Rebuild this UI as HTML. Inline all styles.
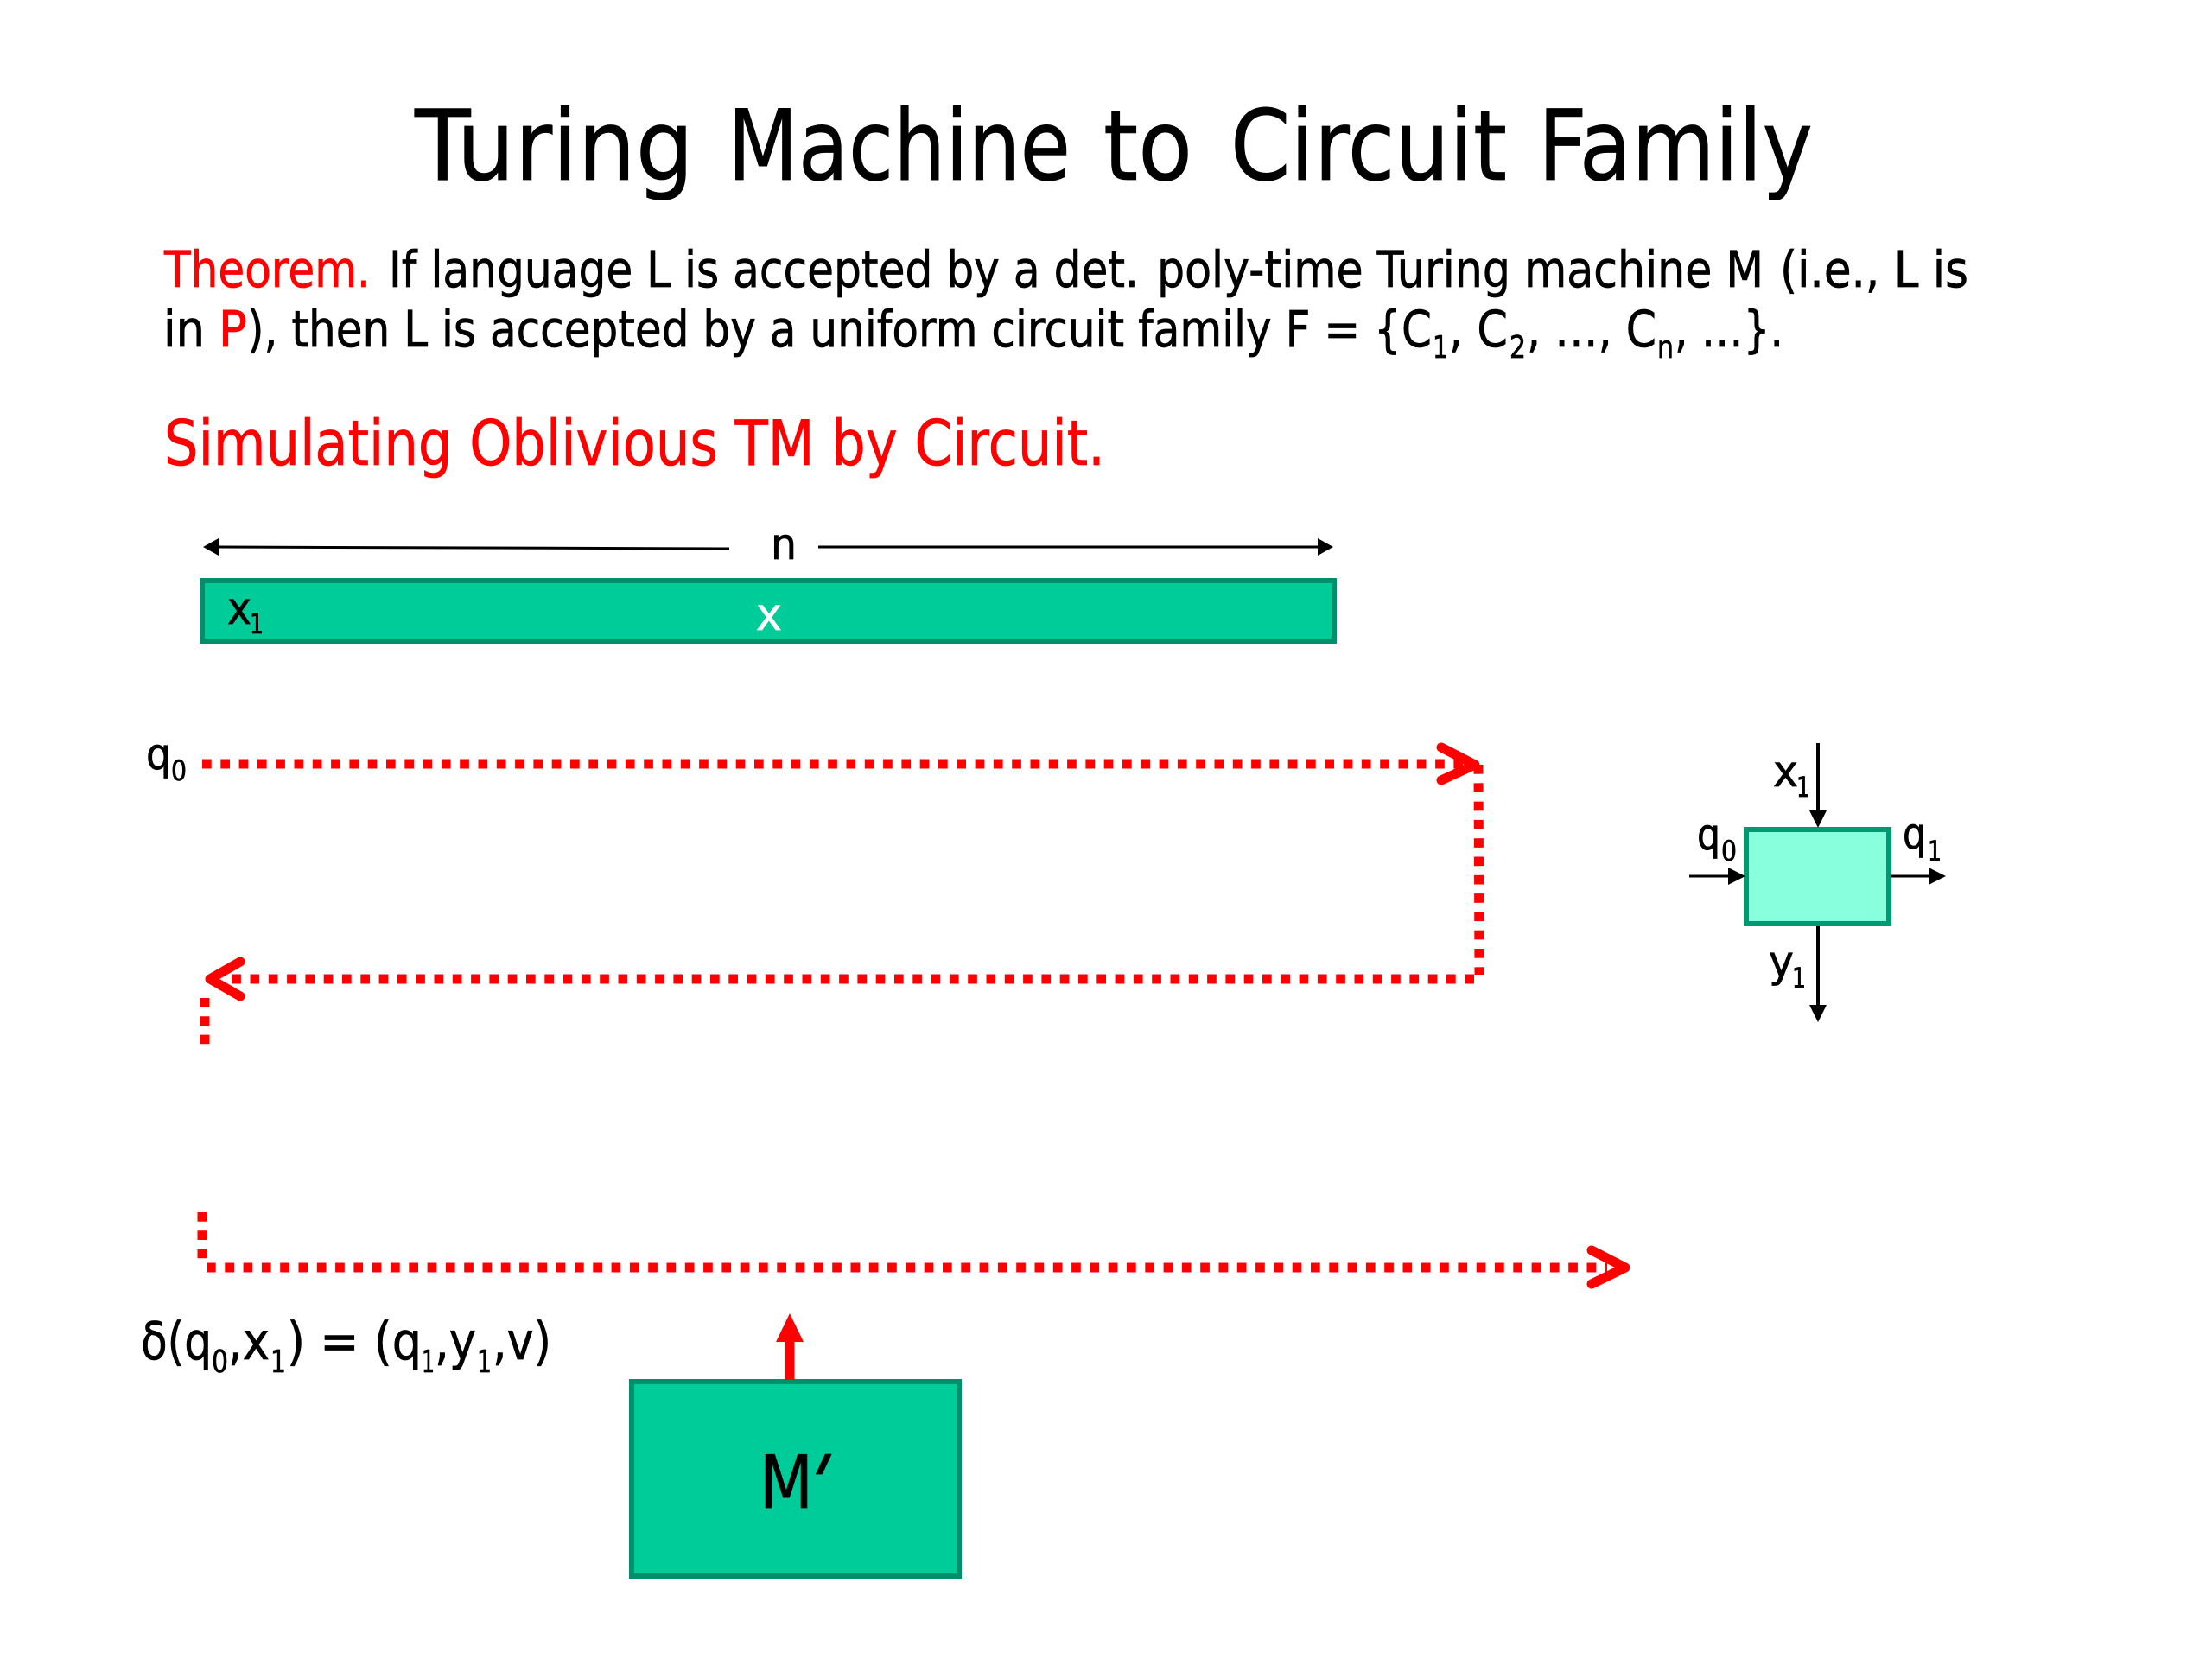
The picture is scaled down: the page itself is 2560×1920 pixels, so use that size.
<!DOCTYPE html>
<html>
<head>
<meta charset="utf-8">
<style>
html,body{margin:0;padding:0;background:#fff;width:2560px;height:1920px;overflow:hidden}
svg{display:block}
text{font-family:"DejaVu Sans","Liberation Sans",sans-serif;fill:#000;stroke:#000;stroke-width:.7}
text.r{fill:#f00;stroke:#f00}
.d{fill:none;stroke:#f00;stroke-width:11;stroke-dasharray:10.7 10.6}
.h{fill:none;stroke:#f00;stroke-width:11;stroke-linecap:round;stroke-linejoin:round}
</style>
</head>
<body>
<svg width="2560" height="1920" viewBox="0 0 2560 1920" xmlns="http://www.w3.org/2000/svg">
<rect width="2560" height="1920" fill="#fff"/>

<g font-size="113">
<text x="480" y="208" textLength="323" lengthAdjust="spacingAndGlyphs">Turing</text>
<text x="842" y="208" textLength="397" lengthAdjust="spacingAndGlyphs">Machine</text>
<text x="1277" y="208" textLength="103" lengthAdjust="spacingAndGlyphs">to</text>
<text x="1424" y="208" textLength="320" lengthAdjust="spacingAndGlyphs">Circuit</text>
<text x="1780" y="208" textLength="318" lengthAdjust="spacingAndGlyphs">Family</text>
</g>

<g font-size="58">
<text class="r" x="190" y="332" textLength="239" lengthAdjust="spacingAndGlyphs">Theorem.</text>
<text x="450" y="332" textLength="868" lengthAdjust="spacingAndGlyphs">If language L is accepted by a det.</text>
<text x="1339" y="332" textLength="702" lengthAdjust="spacingAndGlyphs">poly-time Turing machine M</text>
<text x="2060" y="332" textLength="218" lengthAdjust="spacingAndGlyphs">(i.e., L is</text>
<text x="189" y="401" textLength="48" lengthAdjust="spacingAndGlyphs">in</text>
<text class="r" x="253" y="401" textLength="33" lengthAdjust="spacingAndGlyphs">P</text>
<text x="286" y="401" textLength="1371" lengthAdjust="spacingAndGlyphs">), then L is accepted by a uniform circuit family F = {C</text>
<text x="1677" y="401" textLength="68" lengthAdjust="spacingAndGlyphs">, C</text>
<text x="1767" y="401" textLength="150" lengthAdjust="spacingAndGlyphs">, …, C</text>
<text x="1938" y="401" textLength="126" lengthAdjust="spacingAndGlyphs">, …}.</text>
</g>
<g font-size="36">
<text x="1658" y="414" textLength="18" lengthAdjust="spacingAndGlyphs">1</text>
<text x="1747" y="414" textLength="19" lengthAdjust="spacingAndGlyphs">2</text>
<text x="1918" y="414" textLength="19" lengthAdjust="spacingAndGlyphs">n</text>
</g>

<text class="r" x="190" y="538" font-size="72" textLength="1089" lengthAdjust="spacingAndGlyphs">Simulating Oblivious TM by Circuit.</text>

<!-- n dimension -->
<path d="M250 633 L844 635" stroke="#000" stroke-width="3" fill="none"/>
<path d="M235 633 L253 623 L253 643 Z" fill="#000"/>
<path d="M947 633 H1530" stroke="#000" stroke-width="3" fill="none"/>
<path d="M1543 633 L1525 623 L1525 643 Z" fill="#000"/>
<text x="892" y="647" font-size="50" textLength="30" lengthAdjust="spacingAndGlyphs">n</text>

<!-- tape -->
<rect x="234" y="672" width="1310" height="70" fill="#00cc99" stroke="#008f6b" stroke-width="6"/>
<text x="263" y="722" font-size="52" textLength="28" lengthAdjust="spacingAndGlyphs">x</text>
<text x="289" y="733" font-size="32" textLength="16" lengthAdjust="spacingAndGlyphs">1</text>
<text x="875" y="729" font-size="52" textLength="30" lengthAdjust="spacingAndGlyphs" style="fill:#fff;stroke:#fff">x</text>

<!-- q0 -->
<text x="169" y="890" font-size="50" textLength="29" lengthAdjust="spacingAndGlyphs">q</text>
<text x="198" y="903" font-size="32" textLength="18" lengthAdjust="spacingAndGlyphs">0</text>

<!-- red dotted paths -->
<path class="d" d="M234 884 H1700"/>
<path class="h" d="M1668 865 L1707 885 L1668 903"/>
<path class="d" d="M1711 885 L1712 1128"/>
<path class="d" d="M1706 1133 H262"/>
<path class="h" d="M278 1113 L243 1133 L278 1153"/>
<path class="d" d="M237 1155 V1209"/>
<path class="d" d="M234 1403 V1458"/>
<path class="d" d="M239 1467 H1860"/>
<path class="h" d="M1842 1447 L1881 1467 L1842 1486"/>

<!-- gate -->
<rect x="2021" y="960" width="165" height="109" fill="#88ffdd" stroke="#009970" stroke-width="6"/>
<path d="M2104 860 V945" stroke="#000" stroke-width="4" fill="none"/>
<path d="M2104 958 L2094 938 L2114 938 Z" fill="#000"/>
<path d="M1955 1014 H2005" stroke="#000" stroke-width="3" fill="none"/>
<path d="M2020 1014 L2000 1004 L2000 1024 Z" fill="#000"/>
<path d="M2188 1014 H2240" stroke="#000" stroke-width="3" fill="none"/>
<path d="M2252 1014 L2232 1004 L2232 1024 Z" fill="#000"/>
<path d="M2104 1072 V1170" stroke="#000" stroke-width="4" fill="none"/>
<path d="M2104 1183 L2094 1163 L2114 1163 Z" fill="#000"/>
<g font-size="50">
<text x="1964" y="983" textLength="27" lengthAdjust="spacingAndGlyphs">q</text>
<text x="2052" y="910" textLength="29" lengthAdjust="spacingAndGlyphs">x</text>
<text x="2202" y="982" textLength="27" lengthAdjust="spacingAndGlyphs">q</text>
<text x="2047" y="1130" textLength="29" lengthAdjust="spacingAndGlyphs">y</text>
</g>
<g font-size="32">
<text x="1992" y="996" textLength="18" lengthAdjust="spacingAndGlyphs">0</text>
<text x="2079" y="922" textLength="16" lengthAdjust="spacingAndGlyphs">1</text>
<text x="2231" y="996" textLength="16" lengthAdjust="spacingAndGlyphs">1</text>
<text x="2074" y="1143" textLength="16" lengthAdjust="spacingAndGlyphs">1</text>
</g>

<!-- transition -->
<g font-size="60">
<text x="163" y="1573" textLength="82" lengthAdjust="spacingAndGlyphs">δ(q</text>
<text x="264" y="1573" textLength="48" lengthAdjust="spacingAndGlyphs">,x</text>
<text x="332" y="1573" textLength="156" lengthAdjust="spacingAndGlyphs">) = (q</text>
<text x="503" y="1573" textLength="48" lengthAdjust="spacingAndGlyphs">,y</text>
<text x="570" y="1573" textLength="68" lengthAdjust="spacingAndGlyphs">,v)</text>
</g>
<g font-size="36">
<text x="245" y="1588" textLength="19" lengthAdjust="spacingAndGlyphs">0</text>
<text x="313" y="1588" textLength="18" lengthAdjust="spacingAndGlyphs">1</text>
<text x="488" y="1588" textLength="15" lengthAdjust="spacingAndGlyphs">1</text>
<text x="552" y="1588" textLength="17" lengthAdjust="spacingAndGlyphs">1</text>
</g>

<!-- M' -->
<rect x="731" y="1599" width="379" height="225" fill="#00cc99" stroke="#008f6b" stroke-width="6"/>
<path d="M914 1597 V1550" stroke="#f00" stroke-width="11" fill="none"/>
<path d="M914 1520 L898 1553 L930 1553 Z" fill="#f00"/>
<text x="879" y="1745" font-size="85" textLength="62" lengthAdjust="spacingAndGlyphs">M</text>
<text transform="translate(918 1745) skewX(-25)" font-size="85">'</text>
</svg>
</body>
</html>
